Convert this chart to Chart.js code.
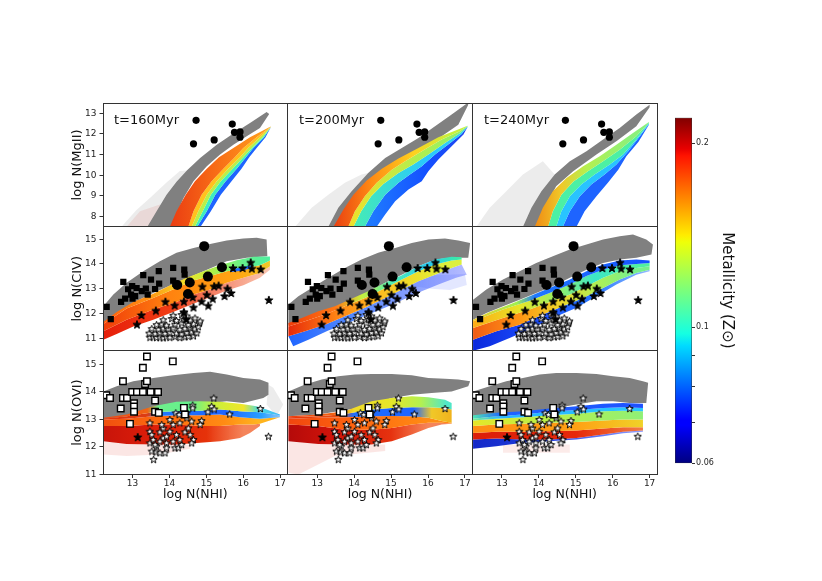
<!DOCTYPE html>
<html>
<head>
<meta charset="utf-8">
<script src="https://cdn.jsdelivr.net/npm/chart.js@4.4.1/dist/chart.umd.min.js"></script>
<style>
  html, body { margin: 0; padding: 0; background: #fff; }
  #wrap { position: relative; width: 822px; height: 581px; overflow: hidden; }
  #main { position: absolute; left: 0; top: 0; }
  #cbar { position: absolute; left: 660px; top: 100px; }
  .tlabel { position: absolute; font: 13px "DejaVu Sans", sans-serif; color: #111; line-height: 16px; white-space: nowrap; }
</style>
</head>
<body>
<div id="wrap">
  <canvas id="main" width="822" height="581"></canvas>
  <canvas id="cbar" width="80" height="369"></canvas>
  <div class="tlabel" style="left:114px;top:112px">t=160Myr</div>
  <div class="tlabel" style="left:299px;top:112px">t=200Myr</div>
  <div class="tlabel" style="left:484px;top:112px">t=240Myr</div>
</div>
<script>
// ---- axes ----
var xRange = [12.2, 17.2];
var xTicks = [13, 14, 15, 16, 17];
var mgRange = [7.5, 13.5];
var mgTicks = [8, 9, 10, 11, 12, 13];
var civRange = [10.5, 15.5];
var civTicks = [11, 12, 13, 14, 15];
var oviRange = [11, 15.5];
var oviTicks = [11, 12, 13, 14, 15];
var cbRange = [0.06, 0.22];
var cbTicks = [0.06, 0.07, 0.08, 0.09, 0.1, 0.2];
var cbLabels = [0.06, 0.1, 0.2];
var ions = ['log N(MgII)', 'log N(CIV)', 'log N(OVI)'];

// ---- observations (same in every column) ----
var mgCircles = [[14.72,12.66],[14.65,11.52],[15.21,11.71],[15.70,12.48],[15.76,12.08],[15.91,12.10],[15.91,11.84]];
var civCircles = [[14.94,14.72],[15.42,13.87],[15.04,13.49],[14.55,13.25],[14.21,13.15],[14.50,12.79]];
var civSquares = [[12.30,12.27],[12.41,11.77],[12.75,13.28],[12.69,12.47],[12.80,12.60],[12.88,12.98],[12.99,13.11],[12.96,12.76],[13.07,12.70],[13.11,13.03],[13.25,12.90],[13.29,13.55],[13.36,13.01],[13.41,12.76],[13.50,13.37],[13.61,12.99],[13.71,13.71],[13.72,13.21],[14.10,13.84],[14.40,13.77],[14.41,13.57],[14.10,13.33],[14.16,13.20],[13.00,12.60]];
var civStars = [[13.12,11.56],[13.24,11.94],[13.63,12.12],[13.89,12.48],[14.14,12.33],[14.39,12.49],[14.63,12.66],[14.65,12.25],[14.87,12.49],[14.89,13.09],[15.01,12.76],[15.05,12.32],[15.17,12.60],[15.21,13.10],[15.33,13.13],[15.49,12.71],[15.57,13.01],[15.67,12.83],[15.72,13.84],[15.98,13.84],[16.20,14.06],[16.23,13.82],[16.47,13.79],[16.69,12.55],[14.39,12.05],[14.45,11.77]];
var civOpenStars = [[13.47,11.04],[13.56,11.06],[13.65,11.03],[13.74,11.05],[13.83,11.02],[13.92,11.06],[14.01,11.04],[14.15,11.07],[14.28,11.03],[14.42,11.06],[14.51,11.08],[14.65,11.10],
  [13.45,11.21],[13.61,11.19],[13.74,11.23],[13.88,11.20],[14.01,11.24],[14.19,11.21],[14.33,11.18],[14.47,11.23],[14.60,11.26],[14.74,11.22],
  [13.52,11.39],[13.70,11.37],[13.83,11.41],[13.97,11.38],[14.10,11.42],[14.28,11.36],[14.42,11.40],[14.56,11.44],[14.69,11.38],[14.78,11.47],
  [13.65,11.55],[13.79,11.58],[13.92,11.53],[14.15,11.57],[14.33,11.62],[14.51,11.55],[14.65,11.59],[14.81,11.63],
  [13.83,11.75],[14.06,11.80],[14.19,11.72],[14.39,11.77],[14.56,11.74],[14.69,11.82],[14.83,11.70],
  [14.10,11.93],[14.33,11.96],[14.47,11.90],[14.39,12.06]];
var oviSquares = [[12.29,13.88],[12.39,13.78],[12.68,13.40],[12.74,14.39],[12.74,13.78],[12.85,13.78],[12.93,12.84],[12.99,14.0],[13.04,13.59],[13.04,13.47],[13.04,13.28],[13.12,14.0],[13.28,14.88],[13.28,14.0],[13.34,14.29],[13.39,14.39],[13.39,15.29],[13.49,14.0],[13.61,13.69],[13.69,14.0],[13.61,13.28],[13.71,13.24],[14.09,15.11],[14.39,13.42],[14.42,13.18]];
var oviOpenStars = [[15.20,13.78],[15.14,13.48],[15.21,13.38],[15.04,13.28],[14.63,13.52],[14.63,13.42],[14.87,12.96],[14.47,13.24],[14.17,13.24],[14.26,13.18],[15.63,13.20],[16.46,13.40],[16.68,12.39],
  [13.47,12.88],[13.47,12.57],[13.52,12.45],[13.47,12.15],[13.52,11.85],[13.57,11.55],[13.65,12.03],[13.64,11.82],[13.74,11.79],[13.88,11.79],[13.74,12.55],[13.83,12.33],[13.92,12.15],[14.01,12.57],[14.10,12.82],[14.15,11.97],[14.24,11.97],[14.33,12.09],[14.42,12.55],[14.51,12.69],[14.56,12.45],[14.65,12.27],[14.60,12.15],[14.19,12.45],[13.83,12.69],[13.56,12.27],[14.01,13.0],[14.28,12.88],[14.60,12.94],[14.83,12.82],[14.47,13.06],[13.61,12.09],[13.74,12.21],[13.92,12.39],[14.10,12.21],[14.28,12.27],[13.79,12.82],[13.92,11.97]];
var oviStar = [[13.14,12.36]];

// ---- simulated clouds: outlines and colour-band boundaries ----
var mg160Gray = [[13.40,7.5],[13.65,8.26],[13.92,9.06],[14.19,9.68],[14.47,10.23],[14.83,10.84],[15.28,11.48],[15.73,12.02],[16.18,12.53],[16.63,13.06],[16.70,12.97],[16.45,12.29],[16.09,11.89],[15.73,11.48],[15.37,11.0],[15.01,10.44],[14.65,9.71],[14.38,8.90],[14.19,8.10],[14.10,7.5]];
var mg160Halo = [[12.70,7.5],[13.10,8.30],[13.50,8.95],[13.92,9.65],[14.28,10.20],[14.47,10.23],[14.19,9.68],[13.92,9.06],[13.65,8.26],[13.40,7.5]];
var mg160Dots = [[12.84,7.5],[13.20,8.26],[13.74,8.58],[14.01,7.5]];
var mg160Bands = [
  [[14.01,7.5],[14.19,8.26],[14.44,9.06],[14.69,9.71],[15.01,10.32],[15.34,10.87],[15.73,11.32],[16.18,11.84],[16.74,12.36]],
  [[14.51,7.5],[14.65,8.26],[14.87,9.06],[15.14,9.71],[15.46,10.32],[15.77,10.87],[16.0,11.32],[16.36,11.84],[16.74,12.35]],
  [[14.60,7.5],[14.78,8.26],[15.01,9.06],[15.28,9.71],[15.59,10.32],[15.91,10.87],[16.13,11.32],[16.45,11.84],[16.74,12.34]],
  [[14.69,7.5],[14.90,8.26],[15.12,9.06],[15.39,9.71],[15.71,10.32],[16.0,10.87],[16.23,11.32],[16.52,11.84],[16.74,12.33]],
  [[14.75,7.5],[15.01,8.26],[15.24,9.06],[15.52,9.71],[15.82,10.32],[16.07,10.87],[16.27,11.32],[16.56,11.84],[16.74,12.32]],
  [[14.84,7.5],[15.12,8.26],[15.39,9.06],[15.68,9.71],[15.95,10.32],[16.16,10.87],[16.36,11.32],[16.60,11.84],[16.74,12.31]]
];

var mg200Gray = [[13.30,7.5],[13.57,8.42],[13.93,9.23],[14.38,10.11],[14.84,10.84],[15.29,11.32],[15.74,11.81],[16.19,12.37],[16.64,12.94],[17.07,13.5],[17.09,13.42],[16.82,12.45],[16.37,11.89],[15.74,11.16],[15.11,10.68],[14.47,9.87],[14.02,8.90],[13.75,8.10],[13.62,7.5]];
var mg200Halo = [[12.40,7.5],[12.85,8.42],[13.30,9.06],[13.75,9.63],[14.20,10.03],[14.38,10.11],[13.93,9.23],[13.57,8.42],[13.30,7.5]];
var mg200Bands = [
  [[13.44,7.5],[13.71,8.34],[13.98,9.06],[14.34,9.74],[14.75,10.32],[15.20,10.81],[15.74,11.32],[16.28,11.84],[16.73,12.16],[17.07,12.40]],
  [[13.84,7.5],[14.02,8.26],[14.29,8.98],[14.61,9.63],[15.02,10.27],[15.38,10.68],[15.83,11.16],[16.37,11.73],[16.82,12.10],[17.07,12.39]],
  [[13.98,7.5],[14.19,8.26],[14.46,8.98],[14.79,9.58],[15.20,10.11],[15.60,10.52],[16.01,11.0],[16.46,11.56],[16.87,12.05],[17.07,12.37]],
  [[14.29,7.5],[14.52,8.26],[14.84,9.06],[15.20,9.63],[15.51,10.03],[15.83,10.44],[16.19,11.0],[16.60,11.56],[16.91,12.0],[17.07,12.35]],
  [[14.61,7.5],[14.84,8.10],[15.11,8.74],[15.47,9.31],[15.83,9.71],[16.01,10.19],[16.28,10.76],[16.64,11.40],[16.96,11.97],[17.07,12.34]]
];

var mg240Gray = [[13.57,7.5],[13.80,8.42],[14.07,9.23],[14.43,10.03],[14.84,10.68],[15.29,11.16],[15.74,11.73],[16.19,12.29],[16.64,12.94],[17.0,13.42],[17.0,13.29],[16.64,12.37],[16.10,11.65],[15.56,11.0],[14.93,10.19],[14.47,9.47],[14.20,8.58],[14.02,7.5]];
var mg240Halo = [[12.31,7.5],[12.67,8.42],[13.12,9.23],[13.57,10.03],[14.11,10.68],[14.43,10.03],[14.07,9.23],[13.80,8.42],[13.57,7.5]];
var mg240Bands = [
  [[13.89,7.5],[14.11,8.42],[14.38,9.23],[14.75,9.87],[15.20,10.44],[15.65,10.92],[16.10,11.48],[16.55,12.05],[16.98,12.58]],
  [[14.25,7.5],[14.38,8.26],[14.61,9.06],[14.93,9.68],[15.33,10.19],[15.74,10.68],[16.19,11.24],[16.64,11.89],[16.98,12.55]],
  [[14.47,7.5],[14.61,8.26],[14.84,8.98],[15.15,9.55],[15.51,10.03],[15.92,10.52],[16.28,11.0],[16.62,11.70],[16.98,12.52]],
  [[14.65,7.5],[14.84,8.26],[15.11,8.98],[15.42,9.55],[15.78,10.03],[16.10,10.52],[16.42,11.16],[16.72,11.85],[16.98,12.48]],
  [[15.02,7.5],[15.24,8.26],[15.56,8.98],[15.87,9.63],[16.15,10.27],[16.37,10.92],[16.70,11.62],[16.98,12.45]]
];

var civ160Gray = [[12.21,12.29],[12.48,12.77],[12.84,13.24],[13.29,13.71],[13.74,14.11],[14.19,14.45],[14.65,14.65],[15.10,14.81],[15.55,14.95],[16.0,15.03],[16.36,15.06],[16.63,14.99],[16.65,14.31],[16.09,14.25],[15.55,14.11],[14.92,13.71],[14.19,13.24],[13.56,12.83],[13.02,12.43],[12.57,12.02],[12.21,11.62]];
var civ160Bands = [
  [[12.21,11.66],[12.57,12.06],[13.02,12.47],[13.56,12.80],[14.01,13.13],[14.47,13.44],[14.92,13.71],[15.37,13.95],[15.82,14.15],[16.27,14.29],[16.72,14.30]],
  [[12.21,11.58],[12.84,12.20],[13.56,12.63],[14.19,13.03],[14.65,13.33],[15.10,13.51],[15.55,13.71],[16.0,13.82],[16.45,13.95],[16.72,14.14]],
  [[12.21,11.28],[12.84,11.75],[13.56,12.16],[14.19,12.47],[14.65,12.77],[15.10,12.97],[15.55,13.24],[16.0,13.44],[16.45,13.64],[16.72,13.91]],
  [[12.21,10.94],[12.57,11.17],[13.02,11.48],[13.56,11.75],[14.10,12.06],[14.65,12.39],[15.10,12.66],[15.55,12.93],[16.0,13.14],[16.45,13.44],[16.72,13.77]]
];
var civ160Streak = [[15.64,13.77],[15.95,13.87],[16.23,13.95],[16.23,13.84],[15.95,13.73],[15.68,13.68]];

var civ200Gray = [[12.22,12.36],[12.49,12.70],[12.85,13.03],[13.30,13.44],[13.75,13.84],[14.20,14.18],[14.65,14.45],[15.11,14.65],[15.56,14.85],[16.01,14.99],[16.46,15.03],[16.82,14.95],[17.14,14.85],[17.09,14.25],[16.64,14.25],[16.19,14.18],[15.74,13.91],[15.29,13.57],[14.84,13.24],[14.38,12.83],[13.93,12.56],[13.48,12.23],[13.03,12.02],[12.58,11.75],[12.22,11.55]];
var civ200Halo = [[15.6,13.4],[16.2,13.55],[17.0,13.6],[17.05,13.15],[16.6,12.95],[16.1,13.0],[15.6,13.1]];
var civ200Bands = [
  [[12.22,11.62],[12.58,11.82],[13.03,12.09],[13.48,12.29],[13.93,12.60],[14.38,12.90],[14.84,13.24],[15.29,13.55],[15.74,13.91],[16.19,14.18],[16.64,14.29],[16.91,14.27]],
  [[12.22,11.48],[12.67,11.69],[13.21,11.96],[13.75,12.29],[14.29,12.63],[14.84,13.03],[15.29,13.37],[15.74,13.71],[16.19,13.98],[16.64,14.14],[16.91,14.18]],
  [[12.22,11.08],[12.67,11.28],[13.21,11.55],[13.75,11.89],[14.29,12.23],[14.84,12.63],[15.29,12.97],[15.74,13.30],[16.19,13.57],[16.64,13.84],[16.91,13.98]],
  [[12.35,10.68],[12.76,10.94],[13.30,11.31],[13.84,11.62],[14.38,11.96],[14.93,12.29],[15.38,12.60],[15.83,12.90],[16.28,13.17],[16.76,13.44],[17.05,13.57]]
];

var civ240Gray = [[12.22,12.56],[12.58,12.97],[13.03,13.37],[13.48,13.71],[13.93,14.04],[14.38,14.31],[14.84,14.58],[15.29,14.79],[15.74,14.99],[16.19,15.12],[16.55,15.19],[16.91,14.99],[17.09,14.79],[17.05,14.38],[16.64,14.25],[16.19,14.18],[15.74,14.04],[15.29,13.77],[14.84,13.44],[14.38,13.10],[13.93,12.83],[13.48,12.56],[13.03,12.29],[12.58,12.02],[12.22,11.75]];
var civ240Bands = [
  [[12.22,11.75],[12.67,12.06],[13.21,12.36],[13.75,12.70],[14.29,13.03],[14.84,13.37],[15.29,13.71],[15.74,13.98],[16.19,14.14],[16.64,14.18],[17.0,14.14]],
  [[12.22,11.69],[13.03,12.16],[13.75,12.52],[14.29,12.83],[14.84,13.17],[15.29,13.51],[15.74,13.77],[16.19,13.95],[16.64,14.0],[17.0,14.04]],
  [[12.22,11.42],[13.03,11.82],[13.75,12.16],[14.29,12.47],[14.84,12.77],[15.29,13.10],[15.74,13.44],[16.19,13.71],[16.64,13.84],[17.0,13.91]],
  [[12.22,10.94],[12.85,11.28],[13.48,11.55],[14.11,11.96],[14.65,12.29],[15.20,12.63],[15.74,13.03],[16.19,13.37],[16.64,13.64],[17.0,13.77]],
  [[12.22,10.5],[12.67,10.68],[13.21,11.01],[13.84,11.42],[14.38,11.82],[15.02,12.23],[15.56,12.70],[16.10,13.17],[16.64,13.57],[17.0,13.71]]
];

var ovi160Gray = [[12.21,14.02],[12.57,14.21],[13.02,14.39],[13.56,14.51],[14.10,14.61],[14.65,14.69],[15.10,14.73],[15.55,14.63],[16.0,14.51],[16.45,14.45],[16.68,14.33],[16.68,13.90],[16.54,13.78],[16.0,13.60],[15.55,13.66],[15.10,13.60],[14.65,13.54],[14.19,13.42],[13.74,13.36],[13.29,13.24],[12.84,13.12],[12.21,13.0]];
var ovi160Halo = [[16.45,14.45],[16.81,14.15],[17.08,13.54],[16.90,13.12],[16.63,13.54],[16.68,14.33]];
var ovi160Dots = [[12.21,12.21],[13.29,12.09],[14.56,12.09],[14.56,11.94],[13.74,11.73],[12.84,11.67],[12.21,11.73]];
var ovi160Bands = [
  [[12.21,13.06],[12.84,13.18],[13.56,13.48],[14.19,13.64],[14.83,13.66],[15.37,13.64],[15.91,13.57],[16.36,13.48],[16.63,13.36],[16.99,13.18]],
  [[12.21,13.03],[12.84,13.12],[13.56,13.26],[14.19,13.30],[14.83,13.32],[15.37,13.36],[15.91,13.30],[16.45,13.26],[16.99,13.15]],
  [[12.21,13.0],[12.84,13.03],[13.56,13.12],[14.19,13.15],[14.83,13.15],[15.37,13.18],[15.91,13.08],[16.45,13.03],[16.99,13.08]],
  [[12.21,12.76],[12.84,12.76],[13.56,12.82],[14.19,12.82],[14.83,12.76],[15.37,12.76],[15.91,12.82],[16.27,12.82],[16.45,12.84]],
  [[12.21,12.21],[12.84,12.11],[13.56,12.09],[14.19,12.09],[14.83,12.15],[15.37,12.21],[15.91,12.33],[16.18,12.51],[16.45,12.76]]
];

var ovi200Gray = [[12.22,14.02],[12.67,14.27],[13.12,14.45],[13.57,14.57],[14.02,14.63],[14.47,14.65],[15.02,14.65],[15.56,14.61],[16.01,14.51],[16.46,14.48],[16.82,14.45],[17.14,14.39],[17.09,14.21],[16.64,14.02],[16.10,13.96],[15.56,13.90],[15.02,13.78],[14.56,13.60],[14.11,13.42],[13.57,13.30],[13.03,13.18],[12.22,13.12]];
var ovi200Dots = [[12.22,12.21],[13.48,12.09],[14.84,12.09],[14.84,11.85],[13.48,11.67],[12.49,11.0],[12.22,11.06]];
var ovi200Bands = [
  [[12.22,13.12],[13.03,13.18],[13.75,13.30],[14.47,13.66],[15.02,13.78],[15.56,13.84],[16.01,13.81],[16.46,13.72],[16.64,13.60]],
  [[12.22,13.08],[13.03,13.12],[13.75,13.20],[14.47,13.36],[15.02,13.42],[15.56,13.44],[16.01,13.44],[16.46,13.42],[16.64,13.36]],
  [[12.22,13.03],[13.03,13.06],[13.75,13.08],[14.47,13.12],[15.02,13.13],[15.56,13.12],[16.01,13.06],[16.37,12.94],[16.64,12.88]],
  [[12.22,12.82],[13.03,12.76],[13.75,12.63],[14.47,12.63],[15.02,12.69],[15.56,12.82],[16.01,12.88],[16.37,12.88],[16.64,12.85]],
  [[12.22,12.21],[13.03,12.11],[13.75,12.09],[14.47,12.09],[15.02,12.21],[15.56,12.45],[16.01,12.69],[16.37,12.82],[16.64,12.84]]
];

var ovi240Gray = [[12.22,14.02],[12.67,14.21],[13.12,14.39],[13.57,14.51],[14.02,14.63],[14.47,14.69],[15.02,14.69],[15.56,14.65],[16.01,14.57],[16.46,14.51],[16.82,14.39],[16.96,14.33],[16.91,13.60],[16.46,13.60],[16.01,13.66],[15.56,13.66],[15.02,13.54],[14.47,13.42],[14.02,13.30],[13.57,13.24],[13.03,13.12],[12.22,13.12]];
var ovi240Dots = [[13.03,12.09],[14.84,12.09],[14.84,11.79],[13.03,11.79]];
var ovi240Bands = [
  [[12.22,13.15],[12.85,13.24],[13.57,13.30],[14.29,13.40],[15.02,13.48],[15.74,13.57],[16.28,13.60],[16.82,13.57]],
  [[12.22,13.03],[12.85,13.12],[13.57,13.18],[14.29,13.28],[15.02,13.34],[15.74,13.42],[16.28,13.44],[16.82,13.42]],
  [[12.22,12.96],[12.85,13.03],[13.57,13.08],[14.29,13.15],[15.02,13.21],[15.74,13.30],[16.28,13.32],[16.82,13.30]],
  [[12.22,12.76],[12.85,12.82],[13.57,12.84],[14.29,12.88],[15.02,12.91],[15.74,12.96],[16.28,13.0],[16.82,13.0]],
  [[12.22,12.51],[12.85,12.55],[13.57,12.55],[14.29,12.57],[15.02,12.60],[15.74,12.67],[16.28,12.72],[16.82,12.72]],
  [[12.22,12.27],[12.85,12.31],[13.57,12.27],[14.29,12.27],[15.02,12.33],[15.74,12.45],[16.28,12.55],[16.82,12.60]],
  [[12.22,11.94],[12.85,12.03],[13.57,12.15],[14.29,12.21],[15.02,12.27],[15.74,12.39],[16.28,12.50],[16.82,12.55]]
];

// ---- styles ----
var EDGE = '#333';
var NONE = 'rgba(0,0,0,0)';
var GRAY = '#808080';
var HALO = 'rgba(170,170,170,0.22)';
var DOTS = 'rgba(225,50,30,0.12)';

var fills = {
  mg160: [
    [[14.0,'#ea3c12'],[15.2,'#f76a16'],[16.5,'#ff9a1c']],
    '#ffc21e', '#b8f04a', '#3ceec0', '#1e64ff'
  ],
  mg200: [
    [[13.4,'#e83c10'],[14.5,'#ff8c14'],[15.6,'#ffd01e'],[16.6,'#c8f03c']],
    [[13.8,'#f0e028'],[16,'#a8f054'],[17,'#8cf06e']],
    [[14,'#46ecb4'],[16,'#28c8ff'],[17,'#30d4f0']],
    [[14.5,'#1e78ff'],[16,'#1450ff'],[17,'#1e46f0']]
  ],
  mg240: [
    [[13.9,'#f08c14'],[14.6,'#f0c828'],[15.3,'#b4f050'],[16.5,'#8cf07a']],
    '#4cf0a4', '#28c4ff', '#1e64ff'
  ],
  civ160: [
    [[12.2,'#ff5a0a'],[13.5,'#ff9614'],[14.5,'#f0e628'],[15.3,'#a0f050'],[16,'#64f08c'],[16.7,'#50f0a0']],
    [[12.2,'#f03c0a'],[14,'#ff820f'],[16,'#ffaa14'],[16.7,'#f0c828']],
    [[12.2,'#e61e0a'],[14,'#f03c14'],[15.5,'rgba(240,70,30,0.6)'],[16.7,'rgba(240,90,30,0.35)']]
  ],
  civ200: [
    [[12.2,'#f03c0a'],[13.5,'#ff7814'],[14.2,'#c8f03c'],[15,'#50f0b4'],[16,'#28c8f0'],[16.9,'#3cf0a0']],
    [[12.2,'#e6280a'],[13.5,'#ff8214'],[14.5,'#ffb41e'],[15.5,'#f0dc28'],[16.5,'#dcf03c']],
    [[12.2,'#1e64ff'],[14,'rgba(30,100,255,0.75)'],[17,'rgba(40,60,255,0.35)']]
  ],
  civ240: [
    [[12.2,'#f0c828'],[13.4,'#a0f050'],[13.9,'#1e78ff'],[17,'#1450ff']],
    [[12.2,'#ffaa14'],[13.5,'#e6e628'],[14.5,'#96f064'],[15.5,'#3ce6c8'],[16.5,'#50f0a0']],
    [[12.2,'#f05a14'],[13.5,'#ff9614'],[14.5,'#f0d228'],[15.5,'#b4f050'],[16.5,'#78f08c']],
    [[12.2,'#0a28dc'],[14,'#1e50ff'],[15.5,'#2878ff'],[17,'rgba(40,120,255,0.5)']]
  ],
  ovi160: [
    [[12.2,'#f04614'],[13.4,'#f06414'],[13.7,'#6ef08c'],[14.6,'#64f08c'],[15.2,'#c8f03c'],[16,'#f0e628'],[16.4,'#50dcdc'],[17,'#3cb4ff']],
    [[12.2,'#e6320a'],[13.4,'#dc3c14'],[13.8,'#1e78ff'],[15.5,'#1e64ff'],[16.5,'#28a0ff'],[17,'rgba(60,160,255,0.6)']],
    [[12.2,'#f0500f'],[14,'#ff6e0f'],[15.5,'#ff8c14'],[16.4,'#ffb41e']],
    [[12.2,'#c8140a'],[13.5,'#dc1e0a'],[15,'#e6320a'],[16,'rgba(240,80,20,0.7)']]
  ],
  ovi200: [
    [[12.2,'#f03c0a'],[13.5,'#f06414'],[14,'#f0dc28'],[15,'#e6e628'],[15.8,'#b4f050'],[16.5,'#50e6c8']],
    [[12.2,'#e6320a'],[13.6,'#e65014'],[14,'#1e6eff'],[15.6,'#1e64ff'],[16.1,'#f0c828'],[16.6,'#f0b41e']],
    [[12.2,'#f0460f'],[14,'#ff640f'],[16,'#ff8c14']],
    [[12.2,'#b40a0a'],[13.5,'#d2140a'],[15,'#e6320f'],[16,'rgba(240,80,20,0.7)']]
  ],
  ovi240: [
    [[12.2,'#50e6b4'],[13,'#1e64ff'],[17,'#1e50ff']],
    [[12.2,'#7cf08c'],[13,'#28b4ff'],[17,'#28c8ff']],
    [[12.2,'#e6e628'],[14,'#bef046'],[17,'#8cf07a']],
    [[12.2,'#ff8c14'],[15,'#ffa014'],[16.8,'#f0d228']],
    [[12.2,'#dc1e0a'],[15,'#e6280a'],[16.8,'rgba(240,90,20,0.8)']],
    [[12.2,'#1428c8'],[14,'#1e3cdc'],[16.8,'rgba(30,60,255,0.5)']]
  ]
};

var panels = [
  {x: 'x1', y: 'yM', gray: mg160Gray, halos: [[mg160Halo, HALO], [mg160Dots, DOTS]], bands: mg160Bands, fills: fills.mg160},
  {x: 'x2', y: 'yM', gray: mg200Gray, halos: [[mg200Halo, HALO]], bands: mg200Bands, fills: fills.mg200},
  {x: 'x3', y: 'yM', gray: mg240Gray, halos: [[mg240Halo, HALO]], bands: mg240Bands, fills: fills.mg240},
  {x: 'x1', y: 'yC', gray: civ160Gray, halos: [], bands: civ160Bands, fills: fills.civ160, extras: [[civ160Streak, '#1e6eff']]},
  {x: 'x2', y: 'yC', gray: civ200Gray, halos: [[civ200Halo, 'rgba(40,70,255,0.13)']], bands: civ200Bands, fills: fills.civ200},
  {x: 'x3', y: 'yC', gray: civ240Gray, halos: [], bands: civ240Bands, fills: fills.civ240},
  {x: 'x1', y: 'yO', gray: ovi160Gray, halos: [[ovi160Halo, HALO], [ovi160Dots, DOTS]], bands: ovi160Bands, fills: fills.ovi160},
  {x: 'x2', y: 'yO', gray: ovi200Gray, halos: [[ovi200Dots, DOTS]], bands: ovi200Bands, fills: fills.ovi200},
  {x: 'x3', y: 'yO', gray: ovi240Gray, halos: [[ovi240Dots, 'rgba(225,60,40,0.1)']], bands: ovi240Bands, fills: fills.ovi240}
];

Chart.defaults.font.family = '"DejaVu Sans", sans-serif';
Chart.defaults.color = '#222';

function toXY(pts) {
  return pts.map(function (p) { return {x: p[0], y: p[1]}; });
}

// horizontal gradient in data x, turned into pixels through the panel's own x scale
function paint(spec, xId) {
  if (typeof spec === 'string') return spec;
  return function (c) {
    var chart = c.chart;
    var sx = chart.scales[xId];
    if (!chart.chartArea || !sx) return spec[0][1];
    var a = sx.getPixelForValue(xRange[0]);
    var b = sx.getPixelForValue(xRange[1]);
    var g = chart.ctx.createLinearGradient(a, 0, b, 0);
    spec.forEach(function (s) {
      var t = (s[0] - xRange[0]) / (xRange[1] - xRange[0]);
      g.addColorStop(Math.min(1, Math.max(0, t)), s[1]);
    });
    return g;
  };
}

function polygon(pts, xId, yId, color, order) {
  return {
    type: 'line', data: toXY(pts), xAxisID: xId, yAxisID: yId,
    fill: 'shape', backgroundColor: color, borderWidth: 0, borderColor: NONE,
    pointRadius: 0, order: order
  };
}

function starImage(fill, size) {
  var c = document.createElement('canvas');
  c.width = size; c.height = size;
  var g = c.getContext('2d');
  var R = size / 2 - 0.7, r = R * 0.4, cx = size / 2, cy = size / 2 + 0.4;
  g.beginPath();
  for (var i = 0; i < 10; i++) {
    var a = -Math.PI / 2 + i * Math.PI / 5;
    var rr = i % 2 ? r : R;
    g.lineTo(cx + rr * Math.cos(a), cy + rr * Math.sin(a));
  }
  g.closePath();
  g.fillStyle = fill; g.fill();
  g.lineWidth = 1; g.strokeStyle = '#000'; g.stroke();
  return c;
}
var starFilled = starImage('#000', 10);
var starOpen = starImage('#fff', 9);

function markers(pts, xId, yId, style, order) {
  return Object.assign({
    type: 'scatter', data: toXY(pts), xAxisID: xId, yAxisID: yId,
    backgroundColor: '#000', borderColor: '#000', borderWidth: 0, order: order
  }, style);
}

var datasets = [];
panels.forEach(function (p) {
  p.halos.forEach(function (h) { datasets.push(polygon(h[0], p.x, p.y, h[1], 60)); });
  datasets.push(polygon(p.gray, p.x, p.y, GRAY, 50));
  for (var i = 0; i < p.bands.length - 1; i++) {
    var pts = p.bands[i].concat(p.bands[i + 1].slice().reverse());
    datasets.push(polygon(pts, p.x, p.y, paint(p.fills[i], p.x), 40));
  }
  (p.extras || []).forEach(function (e) { datasets.push(polygon(e[0], p.x, p.y, e[1], 30)); });
});

['x1', 'x2', 'x3'].forEach(function (xId) {
  datasets.push(markers(mgCircles, xId, 'yM', {pointStyle: 'circle', pointRadius: 3.6}, 2));
  datasets.push(markers(civOpenStars, xId, 'yC', {pointStyle: starOpen}, 6));
  datasets.push(markers(civStars, xId, 'yC', {pointStyle: starFilled}, 5));
  datasets.push(markers(civSquares, xId, 'yC', {pointStyle: 'rect', pointRadius: 4.4}, 4));
  datasets.push(markers(civCircles, xId, 'yC', {pointStyle: 'circle', pointRadius: 5}, 3));
  datasets.push(markers(oviOpenStars, xId, 'yO', {pointStyle: starOpen}, 6));
  datasets.push(markers(oviStar, xId, 'yO', {pointStyle: starFilled}, 5));
  datasets.push(markers(oviSquares, xId, 'yO', {pointStyle: 'rect', pointRadius: 4.6, backgroundColor: '#fff', borderWidth: 1.4}, 4));
});

function tickList(range, ticks) {
  var vals = [range[0]].concat(ticks, [range[1]]);
  return vals.filter(function (v, i) { return vals.indexOf(v) === i; })
    .map(function (v) { return {value: v}; });
}

function xAxis() {
  return {
    type: 'linear', position: 'bottom', stack: 'cols', stackWeight: 1,
    min: xRange[0], max: xRange[1],
    afterBuildTicks: function (ax) { ax.ticks = tickList(xRange, xTicks); },
    afterFit: function (ax) { ax.height = 31.5; },
    ticks: {
      autoSkip: false, maxRotation: 0, padding: 0, font: {size: 9}, color: '#222',
      callback: function (v) { return xTicks.indexOf(v) >= 0 ? String(v) : ''; }
    },
    grid: {
      z: 1, tickLength: 3.5, lineWidth: 1,
      color: function (c) { return c.tick && c.tick.value === xRange[1] ? EDGE : NONE; },
      tickColor: function (c) { return c.tick && xTicks.indexOf(c.tick.value) >= 0 ? EDGE : NONE; }
    },
    border: {display: true, color: EDGE, width: 1, z: 1},
    title: {display: true, text: 'log N(NHI)', font: {size: 12.5}, color: '#111', padding: {top: 0, bottom: 4}}
  };
}

function yAxis(name, range, ticks, edges, weight) {
  return {
    type: 'linear', position: 'left', stack: 'rows', stackWeight: 1, weight: weight,
    min: range[0], max: range[1],
    afterBuildTicks: function (ax) { ax.ticks = tickList(range, ticks); },
    afterFit: function (ax) { ax.width = 37; },
    ticks: {
      autoSkip: false, padding: 3, font: {size: 9}, color: '#222',
      callback: function (v) { return ticks.indexOf(v) >= 0 ? String(v) : ''; }
    },
    grid: {
      z: 1, tickLength: 3.5, lineWidth: 1,
      color: function (c) { return c.tick && edges.indexOf(c.tick.value) >= 0 ? EDGE : NONE; },
      tickColor: function (c) { return c.tick && ticks.indexOf(c.tick.value) >= 0 ? EDGE : NONE; }
    },
    border: {display: true, color: EDGE, width: 1, z: 1},
    title: {display: true, text: name, font: {size: 13}, color: '#111', padding: {top: 4, bottom: 4}}
  };
}

var chart = new Chart(document.getElementById('main'), {
  type: 'scatter',
  data: {datasets: datasets},
  options: {
    responsive: false,
    animation: false,
    events: [],
    layout: {padding: {left: 66, right: 165, top: 103, bottom: 75}},
    plugins: {legend: {display: false}, tooltip: {enabled: false}},
    scales: {
      yO: yAxis(ions[2], oviRange, oviTicks, [], 1),
      yC: yAxis(ions[1], civRange, civTicks, [civRange[0]], 2),
      yM: yAxis(ions[0], mgRange, mgTicks, [mgRange[0], mgRange[1]], 3),
      x1: xAxis(),
      x2: xAxis(),
      x3: xAxis()
    }
  }
});

// ---- colour bar (jet, log scale) ----
var jetStops = [[0, '#000080'], [0.11, '#0000ff'], [0.125, '#0000ff'], [0.34, '#00dbff'], [0.375, '#15ffe2'],
  [0.5, '#7bff7b'], [0.64, '#efff08'], [0.66, '#ffec00'], [0.89, '#ff1300'], [0.91, '#e80000'], [1, '#800000']];

var cbar = new Chart(document.getElementById('cbar'), {
  type: 'bar',
  data: {
    labels: [''],
    datasets: [{
      data: [cbRange],
      backgroundColor: function (c) {
        var area = c.chart.chartArea;
        if (!area) return '#888';
        var g = c.chart.ctx.createLinearGradient(0, area.bottom, 0, area.top);
        jetStops.forEach(function (s) { g.addColorStop(s[0], s[1]); });
        return g;
      },
      borderColor: EDGE, borderWidth: 0.8, borderSkipped: false,
      barPercentage: 1, categoryPercentage: 1
    }]
  },
  options: {
    responsive: false,
    animation: false,
    events: [],
    layout: {padding: {left: 15, top: 17.7, right: 0, bottom: 5}},
    plugins: {legend: {display: false}, tooltip: {enabled: false}},
    scales: {
      x: {display: false},
      y: {
        type: 'logarithmic', position: 'right', min: cbRange[0], max: cbRange[1],
        afterBuildTicks: function (ax) { ax.ticks = cbTicks.map(function (v) { return {value: v}; }); },
        afterFit: function (ax) { ax.width = 48; },
        ticks: {
          autoSkip: false, padding: 1, font: {size: 8}, color: '#222',
          callback: function (v) { return cbLabels.indexOf(v) >= 0 ? String(v) : ''; }
        },
        grid: {drawOnChartArea: false, tickLength: 3, color: EDGE},
        border: {display: false},
        title: {display: true, text: 'Metallicity (Z\u2299)', font: {size: 15}, color: '#111', padding: {top: 4, bottom: 4}}
      }
    }
  }
});
</script>
</body>
</html>
